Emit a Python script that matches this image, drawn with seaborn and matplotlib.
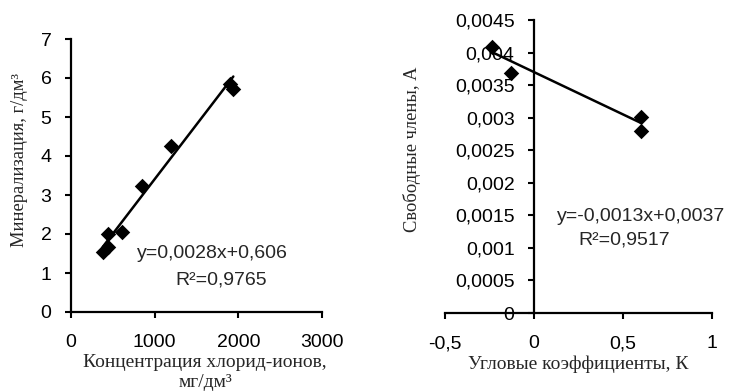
import numpy as np
import pandas as pd
import matplotlib
matplotlib.use("Agg")
import matplotlib.pyplot as plt
import seaborn as sns
from matplotlib.ticker import FuncFormatter, MultipleLocator

# ---- data ----
chloride = [382, 440, 445, 610, 845, 1195, 1900, 1940]       # мг/дм3
mineral = [1.54, 2.00, 1.67, 2.05, 3.23, 4.26, 5.85, 5.72]   # г/дм3
fit1_slope, fit1_intercept = 0.0028, 0.606
fit1_text = ["y=0,0028x+0,606", "R²=0,9765"]

slopes_k = [-0.236, -0.13, 0.60, 0.60]
free_a = [0.00408, 0.00369, 0.00301, 0.00280]
fit2_slope, fit2_intercept = -0.0013, 0.0037
fit2_text = ["y=-0,0013x+0,0037", "R²=0,9517"]

sns.set_style("white")
plt.rcParams['font.family'] = ['Liberation Sans', 'DejaVu Sans']

fig = plt.figure(figsize=(7.3, 3.92), dpi=100)
W, H = 730, 392

def px_axes(l, r, t, b):
    return fig.add_axes([l / W, 1 - b / H, (r - l) / W, (b - t) / H])

ax1 = px_axes(71, 322, 39, 312)
ax2 = px_axes(445, 712, 20, 313)

comma = FuncFormatter(lambda v, p: ("%g" % round(v, 6)).replace('.', ','))

serif_x = dict(family=['Liberation Serif', 'DejaVu Serif'], fontsize=14)
serif_y = dict(family=['Liberation Serif', 'DejaVu Serif'], fontsize=13.3)

# ---- left panel ----
df1 = pd.DataFrame({"x": chloride, "y": mineral})
xs1 = np.array([min(chloride), max(chloride)])
sns.lineplot(x=xs1, y=fit1_slope * xs1 + fit1_intercept, ax=ax1,
             color='black', lw=1.8, zorder=2)
sns.scatterplot(data=df1, x="x", y="y", ax=ax1, marker='D', s=62,
                color='black', edgecolor='black', linewidth=0, zorder=3)
ax1.set_xlim(0, 3000)
ax1.set_ylim(0, 7)
ax1.xaxis.set_major_locator(MultipleLocator(1000))
ax1.yaxis.set_major_locator(MultipleLocator(1))
ax1.text(0.263, 0.216, fit1_text[0], transform=ax1.transAxes, fontsize=14, va='center')
ax1.text(0.414, 0.117, fit1_text[1], transform=ax1.transAxes, fontsize=14, va='center')
ax1.set_xlabel("Концентрация хлорид-ионов,\nмг/дм³", **serif_x, linespacing=1.2)
ax1.set_ylabel("Минерализация, г/дм³", **serif_y)
ax1.xaxis.set_label_coords(0.534, -0.155)
ax1.yaxis.set_label_coords(-0.17, 0.557)
ax1.xaxis.label.set_va('top')

# ---- right panel ----
df2 = pd.DataFrame({"x": slopes_k, "y": free_a})
xs2 = np.array([min(slopes_k), max(slopes_k)])
sns.lineplot(x=xs2, y=fit2_slope * xs2 + fit2_intercept, ax=ax2,
             color='black', lw=1.8, zorder=2)
sns.scatterplot(data=df2, x="x", y="y", ax=ax2, marker='D', s=62,
                color='black', edgecolor='black', linewidth=0, zorder=3)
ax2.set_xlim(-0.5, 1)
ax2.set_ylim(0, 0.0045)
ax2.xaxis.set_major_locator(MultipleLocator(0.5))
ax2.yaxis.set_major_locator(MultipleLocator(0.0005))
ax2.spines['left'].set_position(('data', 0))
ax2.text(0.42, 0.328, fit2_text[0], transform=ax2.transAxes, fontsize=14, va='center')
ax2.text(0.498, 0.249, fit2_text[1], transform=ax2.transAxes, fontsize=14, va='center')
ax2.set_xlabel("Угловые коэффициенты, К", **serif_x)
ax2.set_ylabel("Свободные члены, А", **serif_y)
ax2.xaxis.set_label_coords(0.5, -0.145)
ax2.yaxis.set_label_coords(-0.09, 0.56)
ax2.xaxis.label.set_va('top')

for ax in (ax1, ax2):
    for s in ('top', 'right'):
        ax.spines[s].set_visible(False)
    for s in ('left', 'bottom'):
        ax.spines[s].set_linewidth(1.6)
        ax.spines[s].set_color('black')
    ax.xaxis.set_major_formatter(comma)
    ax.yaxis.set_major_formatter(comma)
    ax.tick_params(axis='both', direction='out', length=4, width=1.5,
                   labelsize=14, colors='black', left=True, bottom=True)
    ax.tick_params(axis='x', pad=12)
    ax.tick_params(axis='y', pad=10)
    ax.set_facecolor('none')

fig.savefig("out.png", dpi=100, facecolor='white')
